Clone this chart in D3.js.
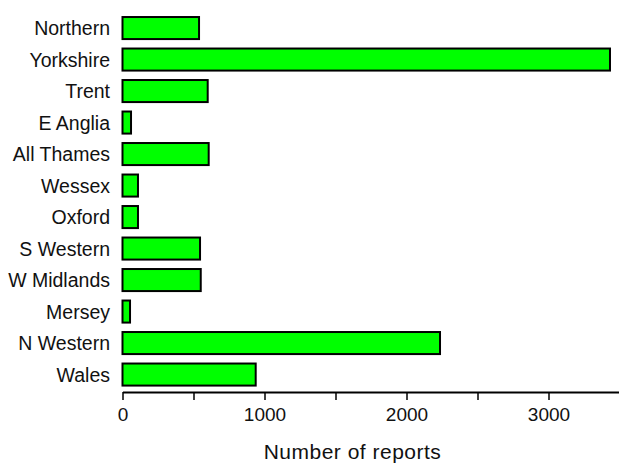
<!DOCTYPE html>
<html>
<head>
<meta charset="utf-8">
<script src="https://cdn.jsdelivr.net/npm/d3@7"></script>
<style>
  body { margin: 0; background: #fff; }
  svg { display: block; font-family: "Liberation Sans", Arial, sans-serif; }
</style>
</head>
<body>
<svg id="chart" width="619" height="464"></svg>
<script>
const regions = ["Northern", "Yorkshire", "Trent", "E Anglia", "All Thames", "Wessex",
    "Oxford", "S Western", "W Midlands", "Mersey", "N Western", "Wales"];
const reports = [539, 3433, 600, 60, 607, 109, 109, 546, 551, 53, 2236, 938];
const tickValues = [0, 500, 1000, 1500, 2000, 2500, 3000, 3500];
const tickLabels = ["0", "", "1000", "", "2000", "", "3000", ""];

const data = regions.map((r, i) => ({ region: r, value: reports[i] }));

const svg = d3.select("#chart");

const x = d3.scaleLinear()
    .domain([0, 3500])
    .range([122.5, 619.5]);

const y = d3.scaleBand()
    .domain(regions)
    .range([12.3, 390.3])
    .paddingInner(0.3)
    .paddingOuter(0.15);

// bars
svg.selectAll(".bar")
    .data(data).enter()
    .append("rect")
    .attr("class", "bar")
    .attr("x", x(0))
    .attr("y", d => y(d.region))
    .attr("width", d => x(d.value) - x(0))
    .attr("height", y.bandwidth())
    .attr("fill", "#00ff00")
    .attr("stroke", "#000")
    .attr("stroke-width", 2);

// category labels
svg.selectAll(".lab")
    .data(data).enter()
    .append("text")
    .attr("class", "lab")
    .attr("x", 110)
    .attr("y", d => y(d.region) + y.bandwidth() / 2)
    .attr("dy", "0.36em")
    .attr("text-anchor", "end")
    .attr("font-size", 19.5)
    .attr("fill", "#111")
    .text(d => d.region);

// x axis
const xAxis = d3.axisBottom(x)
    .tickValues(tickValues)
    .tickFormat((d, i) => tickLabels[i])
    .tickSize(8)
    .tickSizeOuter(0);

const gx = svg.append("g")
    .attr("transform", "translate(0,392)")
    .call(xAxis);

gx.select(".domain").attr("stroke", "#000").attr("stroke-width", 2);
gx.selectAll(".tick line").attr("stroke", "#000").attr("stroke-width", 1.5);
gx.selectAll(".tick text")
    .attr("font-size", 19)
    .attr("font-family", "Liberation Sans, Arial, sans-serif")
    .attr("fill", "#111")
    .attr("y", 16);

svg.append("text")
    .attr("x", 352.5)
    .attr("y", 459)
    .attr("text-anchor", "middle")
    .attr("font-size", 21)
    .attr("letter-spacing", 0.5)
    .attr("fill", "#111")
    .text("Number of reports");
</script>
</body>
</html>
